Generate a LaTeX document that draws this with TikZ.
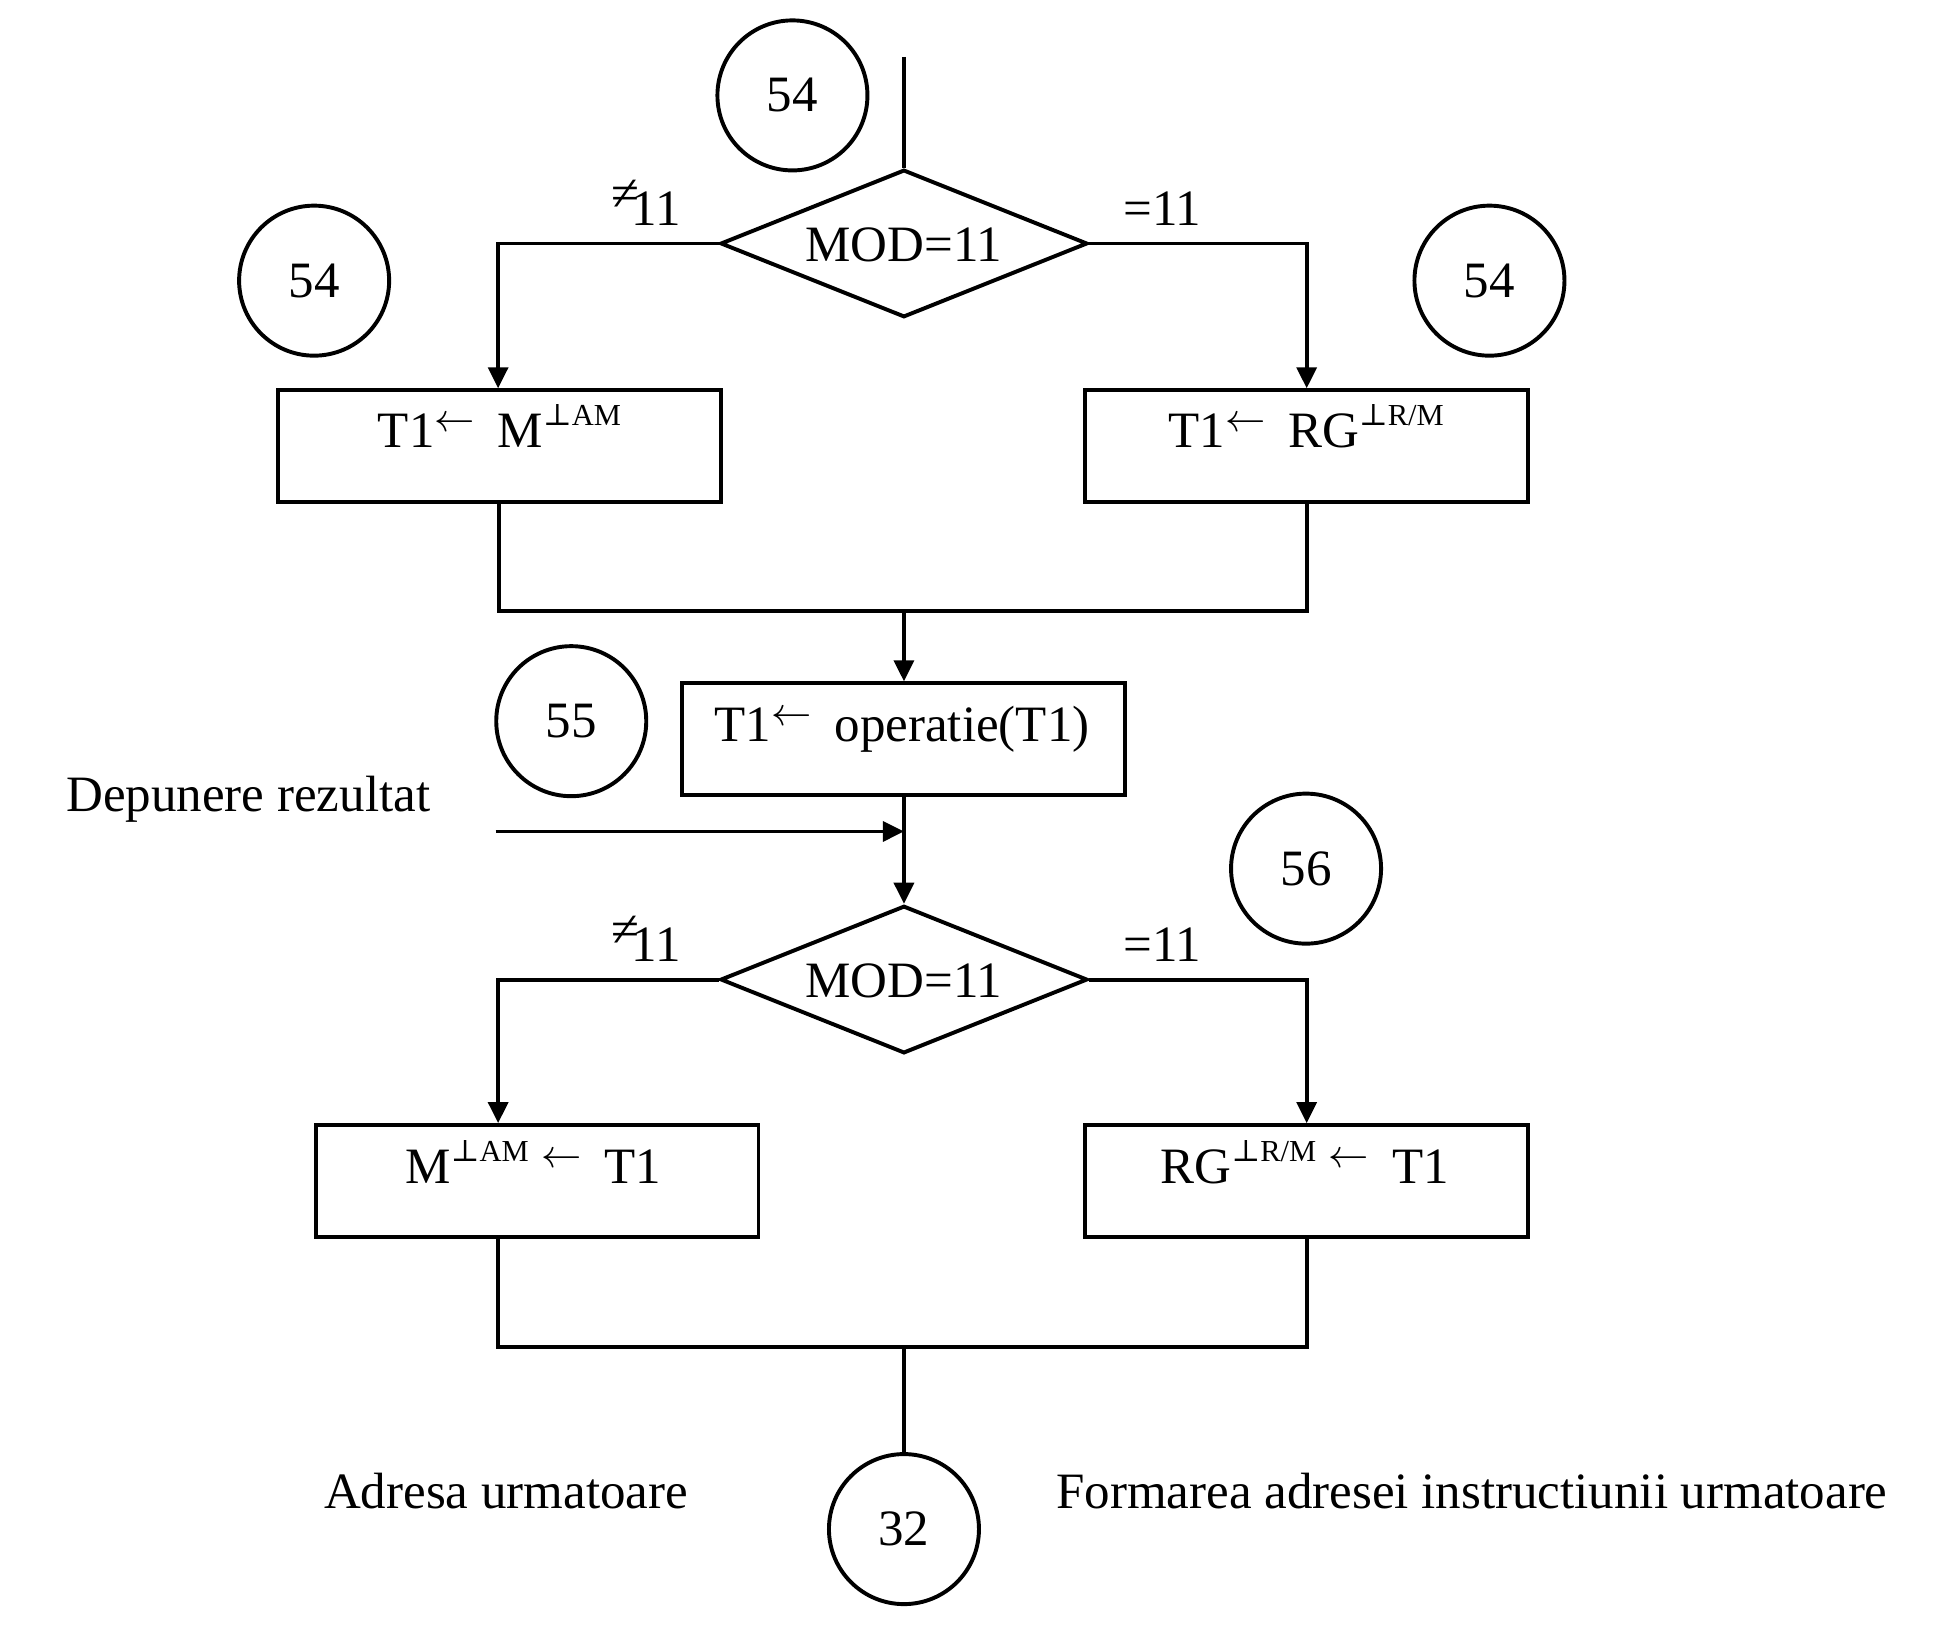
\documentclass[tikz,border=0pt]{standalone}
\usepackage{fontspec}
\setmainfont{Liberation Serif}
\newfontfamily\symf{DejaVu Serif}
\usetikzlibrary{shapes.geometric,arrows.meta}
\newcommand{\perpsup}[1]{\raisebox{5pt}{\fontsize{7}{7}\selectfont{\symf ⊥}#1}}
\newcommand{\sarr}{\raisebox{3.6pt}{\fontsize{9.5}{9.5}\selectfont$\leftarrow$}}
\newcommand{\neqs}{\raisebox{3.3pt}{≠}\kern-0.15em}
\begin{document}
\begin{tikzpicture}[x=0.01cm,y=-0.01cm,line width=0.9pt,
  every node/.style={font=\fontsize{11.7}{14}\selectfont},
  box/.style={draw,rectangle,minimum width=3.57cm,minimum height=0.9cm,inner sep=0pt},
  dec/.style={draw,diamond,minimum width=2.96cm,minimum height=1.19cm,inner sep=0pt},
  conn/.style={draw,circle,minimum size=1.21cm,inner sep=0pt},
  txt/.style={inner sep=0pt,anchor=base},
  lbl/.style={inner sep=0pt,anchor=base west},
  arr/.style={-{Triangle[length=0.17cm,width=0.16cm]}}]
\useasboundingbox (0,0) rectangle (1568,1325);

% connectors (circles)
\node[conn] (c54t) at (639.5,77) {54};
\node[conn] (c54l) at (253.5,226.5) {54};
\node[conn] (c54r) at (1202,226.5) {54};
\node[conn] (c55) at (461,582) {55};
\node[conn] (c56) at (1054,701) {56};
\node[conn] (c32) at (729.5,1234) {32};

% decisions
\node[dec] (d1) at (729.5,196.5) {};
\node[txt] (d1t) at (729.5,211) {MOD=11};
\node[dec] (d2) at (729.5,790.5) {};
\node[txt] (d2t) at (729.5,805) {MOD=11};

% boxes
\node[box] (b1) at (403,360) {};
\node[box] (b2) at (1054.5,360) {};
\node[box] (b3) at (729,596.5) {};
\node[box] (b4) at (433.5,953) {};
\node[box] (b5) at (1054.5,953) {};

\node[txt] (b1t) at (403,361) {T1\sarr\hspace{0.45em}M\perpsup{AM}};
\node[txt] (b2t) at (1054,361) {T1\sarr\hspace{0.45em}RG\perpsup{R/M}};
\node[txt] (b3t) at (728,598.5) {T1\sarr\hspace{0.45em}operatie(T1)};
\node[txt] (b4t) at (430.5,955) {M\perpsup{AM}\hspace{0.25em}\sarr\hspace{0.45em}T1};
\node[txt] (b5t) at (1053,955) {RG\perpsup{R/M}\hspace{0.25em}\sarr\hspace{0.45em}T1};

% branch labels
\node[lbl] (l1) at (492,181.6) {\neqs 11};
\node[lbl] (r1) at (905,181.6) {=11};
\node[lbl] (l2) at (492,775.6) {\neqs 11};
\node[lbl] (r2) at (905,775.6) {=11};

% free texts
\node[lbl] (dep) at (52,655) {Depunere rezultat};
\node[lbl] (adr) at (260,1217) {Adresa urmatoare};
\node[lbl] (form) at (851,1217) {Formarea adresei instructiunii urmatoare};

% coordinates
\coordinate (top) at (729.5,46);
\coordinate (lx) at (402,0);
\coordinate (j1) at (729.5,493);
\coordinate (j2) at (729.5,1087);
\coordinate (depin) at (400,671);

% lines
\draw (top) -- (d1.north);
\draw[arr] (d1.west) -| (lx |- b1.north);
\draw[arr] (d1.east) -| (b2.north);
\draw (b1.south) |- (j1);
\draw (b2.south) |- (j1);
\draw[arr] (j1) -- (j1 |- b3.north);
\draw[arr] (b3.south -| d2.north) -- (d2.north);
\draw[arr] (depin) -- (depin -| d2.north);
\draw[arr] (d2.west) -| (lx |- b4.north);
\draw[arr] (d2.east) -| (b5.north);
\draw (lx |- b4.south) |- (j2);
\draw (b5.south) |- (j2);
\draw (j2) -- (c32.north);
\end{tikzpicture}
\end{document}
